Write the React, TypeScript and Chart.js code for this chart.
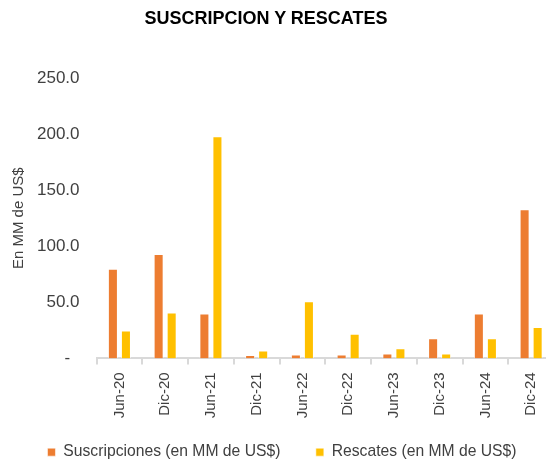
import React, { useEffect, useRef } from "react";
import { Chart, registerables } from "chart.js";

Chart.register(...registerables);

const TITLE = "SUSCRIPCION Y RESCATES";
const Y_TITLE = "En MM de US$";
const categories = ["Jun-20", "Dic-20", "Jun-21", "Dic-21", "Jun-22", "Dic-22", "Jun-23", "Dic-23", "Jun-24", "Dic-24"];
const suscripciones = [80, 93, 40, 3, 3.5, 3.5, 4.5, 18, 40, 133];
const rescates = [25, 41, 198, 7, 51, 22, 9, 4.5, 18, 28];
const seriesNames = ["Suscripciones (en MM de US$)", "Rescates (en MM de US$)"];
const seriesColors = ["#ED7D31", "#FFC000"];
const yMax = 250;
const yStep = 50;

const FONT = "'Liberation Sans', Arial, sans-serif";

export default function App() {
  const ref = useRef<HTMLCanvasElement | null>(null);
  useEffect(() => {
    if (!ref.current) return;
    const chart = new Chart(ref.current, {
      type: "bar",
      data: {
        labels: categories,
        datasets: [
          {
            label: seriesNames[0],
            data: suscripciones,
            backgroundColor: seriesColors[0],
            borderColor: "rgba(255,255,255,0.55)",
            borderWidth: 1,
            barPercentage: 0.77,
            categoryPercentage: 0.57,
          },
          {
            label: seriesNames[1],
            data: rescates,
            backgroundColor: seriesColors[1],
            borderColor: "rgba(255,255,255,0.55)",
            borderWidth: 1,
            barPercentage: 0.77,
            categoryPercentage: 0.57,
          },
        ],
      },
      options: {
        responsive: false,
        animation: false,
        layout: { padding: { top: 78, left: 10, right: 4, bottom: 0 } },
        plugins: {
          title: { display: false },
          tooltip: { enabled: false },
          legend: {
            position: "bottom",
            labels: {
              font: { family: FONT, size: 15.7 },
              color: "#404040",
              boxWidth: 8,
              boxHeight: 8,
              padding: 18,
              generateLabels: (c: any) => {
                const items = Chart.defaults.plugins.legend.labels.generateLabels(c);
                return items.map((it: any, i: number) =>
                  i < items.length - 1 ? { ...it, text: it.text + "    " } : it
                );
              },
            },
          },
        },
        scales: {
          x: {
            grid: {
              offset: true,
              drawOnChartArea: false,
              color: "#D9D9D9",
              lineWidth: 2,
              tickLength: 6,
            },
            border: { color: "#D9D9D9", width: 2 },
            ticks: {
              font: { family: FONT, size: 15 },
              color: "#404040",
              minRotation: 90,
              maxRotation: 90,
              padding: 8,
            },
          },
          y: {
            min: 0,
            max: yMax,
            grid: { display: false, drawTicks: false },
            border: { display: false },
            ticks: {
              stepSize: yStep,
              font: { family: FONT, size: 17 },
              color: "#404040",
              padding: 17,
              callback: (v: any) => (Number(v) === 0 ? "-  " : Number(v).toFixed(1)),
            },
            title: {
              display: true,
              text: Y_TITLE,
              font: { family: FONT, size: 15 },
              color: "#404040",
              padding: { top: 0, bottom: -8 },
            },
          },
        },
      },
    });
    return () => chart.destroy();
  }, []);

  return (
    <div style={{ position: "fixed", left: 0, top: 0, width: 558, height: 470 }}>
      <canvas ref={ref} width={558} height={470} style={{ display: "block" }} />
      <div
        style={{
          position: "absolute",
          left: 0,
          top: 8,
          width: 532,
          textAlign: "center",
          fontFamily: FONT,
          fontWeight: "bold",
          fontSize: 18,
          color: "#000",
        }}
      >
        {TITLE}
      </div>
    </div>
  );
}
